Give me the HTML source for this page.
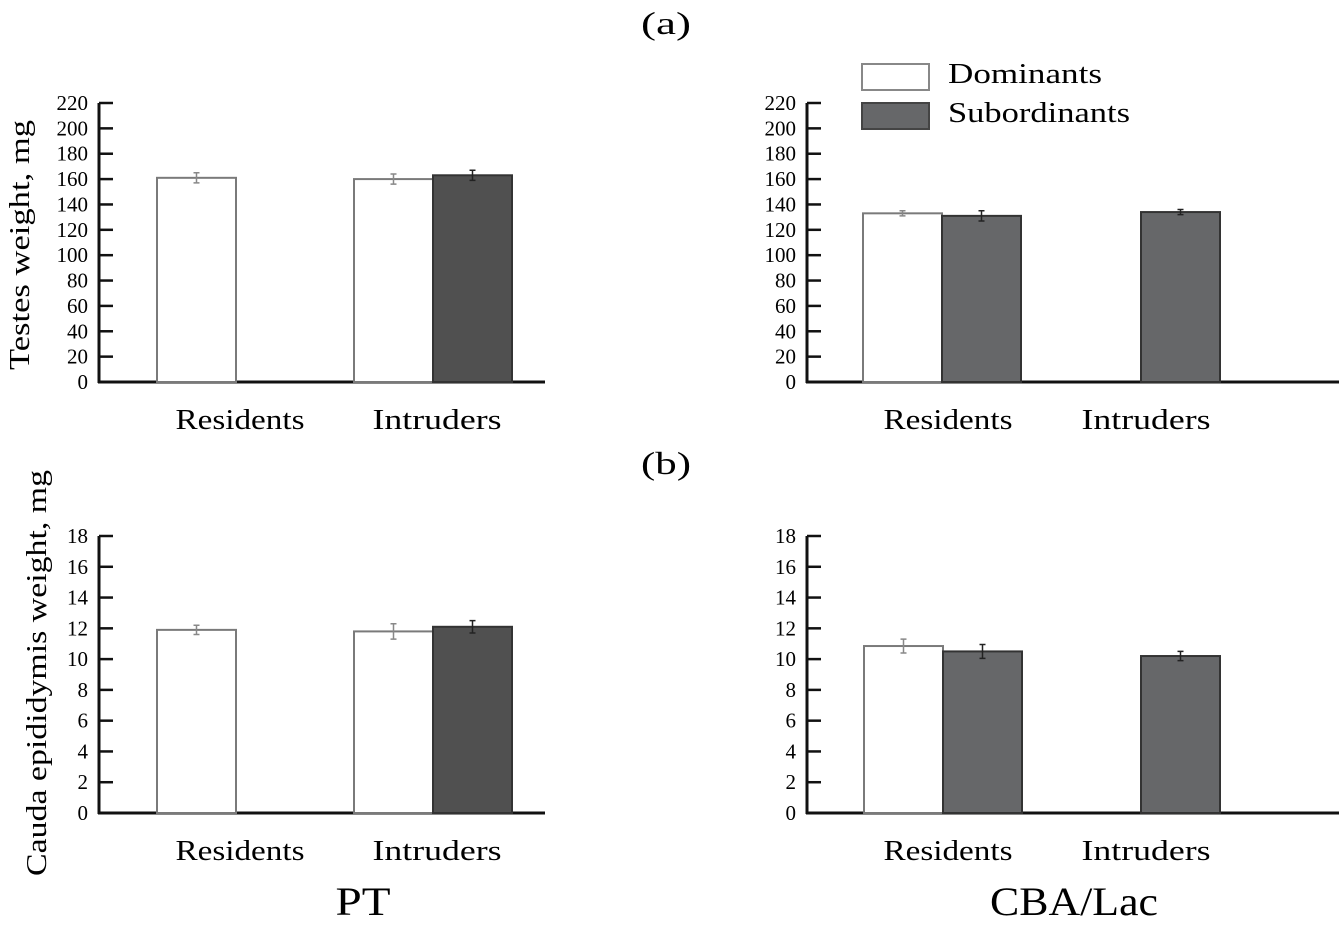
<!DOCTYPE html>
<html><head><meta charset="utf-8"><style>
html,body{margin:0;padding:0;background:#fff;}
svg{display:block;font-family:"Liberation Serif",serif;}
</style></head><body>
<svg id="fig" width="1339" height="928" viewBox="0 0 1339 928">
<text x="666" y="34" font-size="32" text-anchor="middle" textLength="50" lengthAdjust="spacingAndGlyphs">(a)</text>
<text x="666" y="474" font-size="32" text-anchor="middle" textLength="50" lengthAdjust="spacingAndGlyphs">(b)</text>
<text x="363" y="915" font-size="40" text-anchor="middle" textLength="55" lengthAdjust="spacingAndGlyphs">PT</text>
<text x="1074" y="915" font-size="40" text-anchor="middle" textLength="168" lengthAdjust="spacingAndGlyphs">CBA/Lac</text>
<text transform="translate(29,245) rotate(-90)" font-size="28" text-anchor="middle" textLength="250" lengthAdjust="spacingAndGlyphs">Testes weight, mg</text>
<text transform="translate(46,673) rotate(-90)" font-size="28" text-anchor="middle" textLength="406" lengthAdjust="spacingAndGlyphs">Cauda epididymis weight, mg</text>
<g>
<rect x="862" y="64" width="67" height="26" fill="#fff" stroke="#888" stroke-width="2"/>
<text x="948" y="83" font-size="29" textLength="154" lengthAdjust="spacingAndGlyphs">Dominants</text>
<rect x="862" y="103" width="67" height="26" fill="#666769" stroke="#444" stroke-width="2"/>
<text x="948" y="122" font-size="29" textLength="182" lengthAdjust="spacingAndGlyphs">Subordinants</text>
</g>
<g id="plots"></g>
</svg>
<script>
const groups = ["Residents", "Intruders"];
const ticksA = [0,20,40,60,80,100,120,140,160,180,200,220];
const ticksB = [0,2,4,6,8,10,12,14,16,18];
const ptTestesDom = [161, 160];
const ptTestesDomErr = [4, 4];
const ptTestesSub = [null, 163];
const ptTestesSubErr = [null, 4];
const cbaTestesDom = [133, null];
const cbaTestesDomErr = [2, null];
const cbaTestesSub = [131, 134];
const cbaTestesSubErr = [4, 2];
const ptCaudaDom = [11.9, 11.8];
const ptCaudaDomErr = [0.3, 0.5];
const ptCaudaSub = [null, 12.1];
const ptCaudaSubErr = [null, 0.4];
const cbaCaudaDom = [10.85, null];
const cbaCaudaDomErr = [0.45, null];
const cbaCaudaSub = [10.5, 10.2];
const cbaCaudaSubErr = [0.45, 0.3];

const NS = "http://www.w3.org/2000/svg";
const root = document.getElementById('plots');
function mk(tag, attrs, parent){const e=document.createElementNS(NS,tag);for(const k in attrs)e.setAttribute(k,attrs[k]);parent.appendChild(e);return e;}

function panel(name, ax, top, bottom, xEnd, ticks, dom, domErr, sub, subErr, subFill, groupX, labelX){
  const g = mk('g',{},root);
  
  
  const max = ticks[ticks.length-1];
  const y = v => bottom - v/max*(bottom-top);
  const yl = mk('line',{x1:ax,y1:top,x2:ax,y2:bottom+1,stroke:'#111','stroke-width':3},g);
  
  
  const xl = mk('line',{x1:ax-1,y1:bottom,x2:xEnd,y2:bottom,stroke:'#111','stroke-width':3},g);
  
  
  ticks.forEach(t=>{
    const tl = mk('line',{x1:ax,y1:y(t),x2:ax+14,y2:y(t),stroke:'#111','stroke-width':2.5},g);
    
    
    const tx = mk('text',{x:ax-11,y:y(t)+7,'font-size':21,'text-anchor':'end'},g);
    tx.textContent = t;
    
    
  });
  const bw = 79;
  groups.forEach((gr,i)=>{
    const cx = groupX[i];
    const lab = mk('text',{x:labelX[i],y:bottom+47,'font-size':29,'text-anchor':'middle',textLength:129,lengthAdjust:'spacingAndGlyphs'},g);
    lab.textContent = gr;
    
    
    const series = [[dom[i],domErr[i],'#fff','#7a7a7a','#888',cx-bw],[sub[i],subErr[i],subFill,'#333','#222',cx]];
    series.forEach((s,j)=>{
      if(s[0]==null) return;
      const r = mk('rect',{x:s[5],y:y(s[0]),width:bw,height:bottom-y(s[0]),fill:s[2],stroke:s[3],'stroke-width':2},g);
      
      
      const ex = s[5]+bw/2, e = s[1];
      const eb = mk('path',{d:`M${ex},${y(s[0]+e)}V${y(s[0]-e)}M${ex-3},${y(s[0]+e)}H${ex+3}M${ex-3},${y(s[0]-e)}H${ex+3}`,stroke:s[4],'stroke-width':1.5,fill:'none'},g);
      
      
    });
  });
}
panel('chart-pt-testes', 99, 103, 382, 545, ticksA, ptTestesDom, ptTestesDomErr, ptTestesSub, ptTestesSubErr, '#505050', [236, 433], [240, 437]);
panel('chart-cba-testes', 807, 103, 382, 1339, ticksA, cbaTestesDom, cbaTestesDomErr, cbaTestesSub, cbaTestesSubErr, '#666769', [942, 1141], [948, 1146]);
panel('chart-pt-cauda', 99, 536, 813, 545, ticksB, ptCaudaDom, ptCaudaDomErr, ptCaudaSub, ptCaudaSubErr, '#505050', [236, 433], [240, 437]);
panel('chart-cba-cauda', 807, 536, 813, 1339, ticksB, cbaCaudaDom, cbaCaudaDomErr, cbaCaudaSub, cbaCaudaSubErr, '#666769', [943, 1141], [948, 1146]);
</script>
</body></html>
